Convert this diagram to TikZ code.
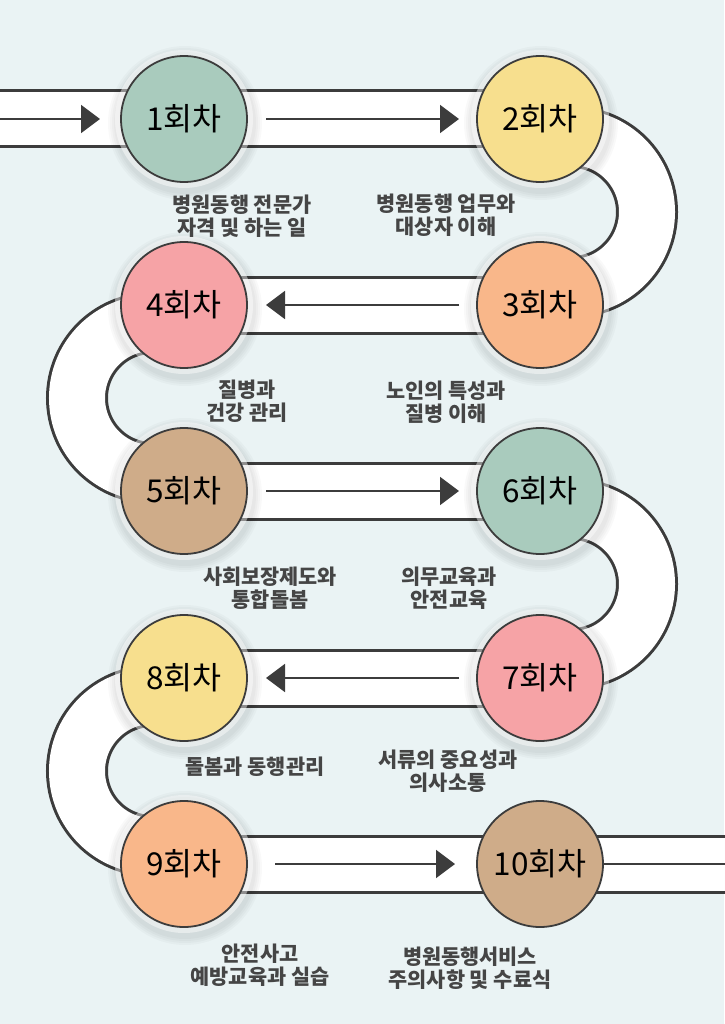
\documentclass[tikz,border=0pt]{standalone}
\usepackage{fontspec}
\setmainfont{Noto Sans CJK KR}
\usetikzlibrary{arrows.meta,calc}
\pgfdeclarelayer{bg}
\pgfdeclarelayer{halo}
\pgfsetlayers{bg,halo,main}
\definecolor{bgc}{HTML}{EAF3F4}
\definecolor{edge}{HTML}{3C3C3C}
\definecolor{sage}{HTML}{A9CBBD}
\definecolor{sun}{HTML}{F7DF8E}
\definecolor{peach}{HTML}{F9B78A}
\definecolor{rose}{HTML}{F6A3A6}
\definecolor{tan}{HTML}{CFAC89}
\definecolor{lbl}{HTML}{454545}
\tikzset{
 sess/.style={circle, draw=edge, line width=1.8pt, minimum size=126pt, inner sep=0pt, outer sep=0pt, font=\fontsize{31.5}{34}\selectfont, text=black},
 lab/.style={align=center, text=lbl, font=\bfseries\fontsize{20.8}{23}\selectfont},
 bandout/.style={draw=edge, line width=59pt},
 bandin/.style={draw=white, line width=53pt},
 uout/.style={draw=edge, line width=62pt},
 uin/.style={draw=white, line width=56pt},
 flow/.style={draw=edge, line width=1.8pt, -{Triangle[length=19pt,width=28pt]}},
 cline/.style={draw=edge, line width=1.8pt},
}
\begin{document}
\begin{tikzpicture}[x=1pt,y=-1pt]
\useasboundingbox (0,0) rectangle (724,1024);
% session circles
\node[sess,fill=sage]  (c1)  at (184,119) {1회차};
\node[sess,fill=sun]   (c2)  at (540,119) {2회차};
\node[sess,fill=peach] (c3)  at (540,305) {3회차};
\node[sess,fill=rose]  (c4)  at (184,305) {4회차};
\node[sess,fill=tan]   (c5)  at (184,491) {5회차};
\node[sess,fill=sage]  (c6)  at (540,491) {6회차};
\node[sess,fill=rose]  (c7)  at (540,678) {7회차};
\node[sess,fill=sun]   (c8)  at (184,678) {8회차};
\node[sess,fill=peach] (c9)  at (184,864) {9회차};
\node[sess,fill=tan]   (c10) at (540,864) {10회차};
% labels
\node[lab] (l1)  at (242,216) {병원동행 전문가\\자격 및 하는 일};
\node[lab] (l2)  at (446,215) {병원동행 업무와\\대상자 이해};
\node[lab] (l3)  at (446,402) {노인의 특성과\\질병 이해};
\node[lab] (l4)  at (247,401) {질병과\\건강 관리};
\node[lab] (l5)  at (270,588) {사회보장제도와\\통합돌봄};
\node[lab] (l6)  at (449,588) {의무교육과\\안전교육};
\node[lab] (l7)  at (448,771) {서류의 중요성과\\의사소통};
\node[lab] (l8)  at (255,767) {돌봄과 동행관리};
\node[lab] (l9)  at (260,965) {안전사고\\예방교육과 실습};
\node[lab] (l10) at (470,968) {병원동행서비스\\주의사항 및 수료식};
\coordinate (s) at (-10,119);
\coordinate (e) at (734,864);
% halos
\begin{pgfonlayer}{halo}
\foreach \c in {c1,c2,c3,c4,c5,c6,c7,c8,c9}{
  \foreach \r in {77,75,73,71}{\fill[black,opacity=0.022] ($(\c)+(1,4)$) circle (\r);}
  \fill[white,opacity=0.45] (\c) circle (69);
}
\end{pgfonlayer}
% road
\begin{pgfonlayer}{bg}
\fill[bgc] (0,0) rectangle (724,1024);
\foreach \st in {bandout,bandin}{
  \draw[\st] (s) -- (c2.center);
  \draw[\st] (c4.center) -- (c3.center);
  \draw[\st] (c5.center) -- (c6.center);
  \draw[\st] (c8.center) -- (c7.center);
  \draw[\st] (c9.center) -- (e);
}
\foreach \st in {uout,uin}{
  \draw[\st] ($(c2)+(32,18)$) arc[start angle=-90,end angle=90,radius=75];
  \draw[\st] ($(c4)+(-32,18)$) arc[start angle=-90,end angle=-270,radius=75];
  \draw[\st] ($(c6)+(32,18)$) arc[start angle=-90,end angle=90,radius=75];
  \draw[\st] ($(c8)+(-32,18)$) arc[start angle=-90,end angle=-270,radius=75];
}
\draw[flow] (s) -- ($(c1.west)+(-21,0)$);
\draw[flow] ($(c1.east)+(19,0)$) -- ($(c2.west)+(-18,0)$);
\draw[flow] ($(c3.west)+(-18,0)$) -- ($(c4.east)+(19,0)$);
\draw[flow] ($(c5.east)+(19,0)$) -- ($(c6.west)+(-18,0)$);
\draw[flow] ($(c7.west)+(-18,0)$) -- ($(c8.east)+(19,0)$);
\draw[flow] ($(c9.east)+(28,0)$) -- ($(c10.west)+(-22,0)$);
\draw[cline] (c10.east) -- (e);
\end{pgfonlayer}
\end{tikzpicture}
\end{document}
